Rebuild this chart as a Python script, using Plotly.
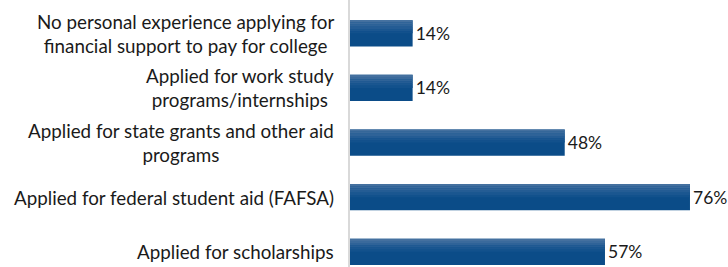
import plotly.graph_objects as go

categories = [
    "No personal experience applying for<br>financial support to pay for college",
    "Applied for work study<br>programs/internships",
    "Applied for state grants and other aid<br>programs",
    "Applied for federal student aid (FAFSA)",
    "Applied for scholarships",
]
values = [14, 14, 48, 76, 57]
value_labels = [f"{v}%" for v in values]

BAR_W = 0.48
FONT = "Lato, Calibri, Carlito, sans-serif"

fig = go.Figure()

# base bar (dark blue)
fig.add_trace(go.Bar(
    y=categories, x=values, orientation="h",
    width=BAR_W, offset=-BAR_W / 2,
    marker=dict(color="#0b4c88", line=dict(width=0)),
    text=value_labels, textposition="outside",
    textfont=dict(family=FONT, size=17.5, color="#1a1a1a"),
    cliponaxis=False, hoverinfo="skip",
))

# lighter strips on top to simulate the vertical gradient
strip_colors = ["#44709f", "#3a6a9c", "#2f6398", "#245c94", "#1a5690", "#12518c"]
n = len(strip_colors)
sw = BAR_W / 2 / n
for i, c in enumerate(strip_colors):
    fig.add_trace(go.Bar(
        y=categories, x=values, orientation="h",
        width=sw, offset=-BAR_W / 2 + i * sw,
        marker=dict(color=c, line=dict(width=0)),
        hoverinfo="skip",
    ))

for cat in categories:
    fig.add_annotation(
        x=0, xref="paper", xanchor="right", xshift=-14,
        y=cat, yref="y", yanchor="middle",
        text=cat, align="center", showarrow=False,
        font=dict(family=FONT, size=18.8, color="#1a1a1a"),
    )

fig.update_layout(
    width=728, height=267,
    margin=dict(l=350, r=0, t=0, b=0, autoexpand=False),
    paper_bgcolor="white", plot_bgcolor="white",
    barmode="overlay", showlegend=False,
    xaxis=dict(range=[0, 84.5], visible=False, fixedrange=True),
    yaxis=dict(
        type="category", categoryorder="array", categoryarray=categories,
        range=[4.278, -0.611], showticklabels=False, ticks="",
        showline=True, linecolor="#d9d9d9", linewidth=1.5,
        showgrid=False, zeroline=False,
    ),
)

fig.write_html(
    "out.html",
    config={"displayModeBar": False},
    post_script="document.body.style.margin='0';document.body.style.overflow='hidden';",
)
